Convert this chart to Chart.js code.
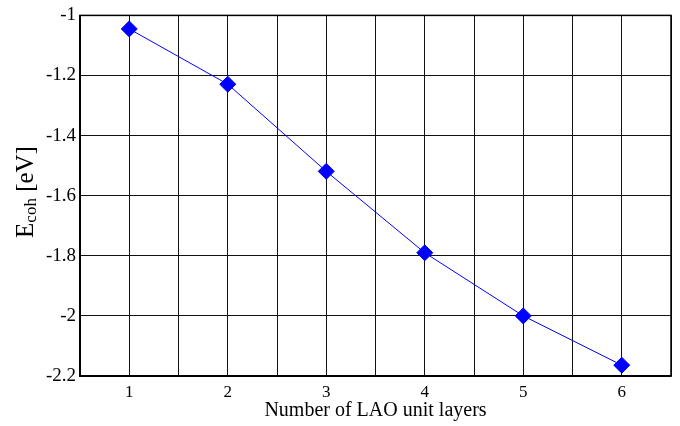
<!DOCTYPE html>
<html>
<head>
<meta charset="utf-8">
<script src="https://cdn.jsdelivr.net/npm/chart.js@4/dist/chart.umd.min.js"></script>
<style>
  html, body { margin: 0; padding: 0; background: #fff; }
  #wrap { width: 680px; height: 426px; }
</style>
</head>
<body>
<div id="wrap"><canvas id="myChart" width="680" height="426"></canvas></div>
<script>
// values
var layers = [1, 2, 3, 4, 5, 6];
var ecoh = [-1.045, -1.229, -1.519, -1.790, -2.000, -2.164];

var xTitle = "Number of LAO unit layers";
var yTitleMain = "E";
var yTitleSub = "coh";
var yTitleUnit = " [eV]";

var serif = "'Liberation Serif', 'DejaVu Serif', serif";

// box around the plot and the y title with its subscript
var framePlugin = {
  id: "frame",
  afterDatasetsDraw: function (chart) {
    var a = chart.chartArea, ctx = chart.ctx;
    ctx.save();
    ctx.strokeStyle = "#000";
    ctx.lineWidth = 1.5;
    ctx.strokeRect(a.left, a.top, a.right - a.left, a.bottom - a.top);
    ctx.restore();
  },
  afterDraw: function (chart) {
    var ctx = chart.ctx;
    ctx.save();
    ctx.fillStyle = "#000";
    ctx.textBaseline = "alphabetic";
    var big = "25px " + serif, small = "17px " + serif;
    ctx.font = big;
    var wE = ctx.measureText(yTitleMain).width;
    var wU = ctx.measureText(yTitleUnit).width;
    ctx.font = small;
    var wS = ctx.measureText(yTitleSub).width;
    var total = wE + wS + wU;
    ctx.translate(33, 192);
    ctx.rotate(-Math.PI / 2);
    var x = -total / 2;
    ctx.font = big;
    ctx.fillText(yTitleMain, x, 0);
    x += wE;
    ctx.font = small;
    ctx.fillText(yTitleSub, x, 3);
    x += wS;
    ctx.font = big;
    ctx.fillText(yTitleUnit, x, 0);
    ctx.restore();
  }
};

var ctx = document.getElementById("myChart").getContext("2d");
var myChart = new Chart(ctx, {
  type: "line",
  data: {
    datasets: [{
      data: layers.map(function (v, i) { return { x: v, y: ecoh[i] }; }),
      borderColor: "#0000ff",
      backgroundColor: "#0000ff",
      borderWidth: 1,
      pointStyle: "rectRot",
      pointRadius: 8,
      pointHoverRadius: 8,
      tension: 0
    }]
  },
  options: {
    responsive: false,
    animation: false,
    layout: { padding: { top: 15, right: 8, left: 0, bottom: 0 } },
    plugins: { legend: { display: false }, tooltip: { enabled: false } },
    scales: {
      x: {
        type: "linear",
        min: 0.5,
        max: 6.5,
        afterFit: function (s) { s.height = 50; },
        ticks: {
          stepSize: 0.5,
          color: "#000",
          padding: 6,
          font: { family: serif, size: 17 },
          callback: function (v) { return Number.isInteger(v) ? v : ""; }
        },
        grid: { color: "#111", lineWidth: 1, drawTicks: false },
        border: { color: "#000", width: 1.5 },
        title: {
          display: true,
          text: xTitle,
          color: "#000",
          font: { family: serif, size: 20 },
          padding: { top: 0, bottom: 3 }
        }
      },
      y: {
        min: -2.2,
        max: -1,
        afterFit: function (s) { s.width = 80; },
        ticks: {
          stepSize: 0.2,
          color: "#000",
          padding: 4,
          font: { family: serif, size: 19 },
          callback: function (v) { return Math.round(v * 10) / 10; }
        },
        grid: { color: "#111", lineWidth: 1, drawTicks: false },
        border: { color: "#000", width: 1.5 }
      }
    }
  },
  plugins: [framePlugin]
});
</script>
</body>
</html>
